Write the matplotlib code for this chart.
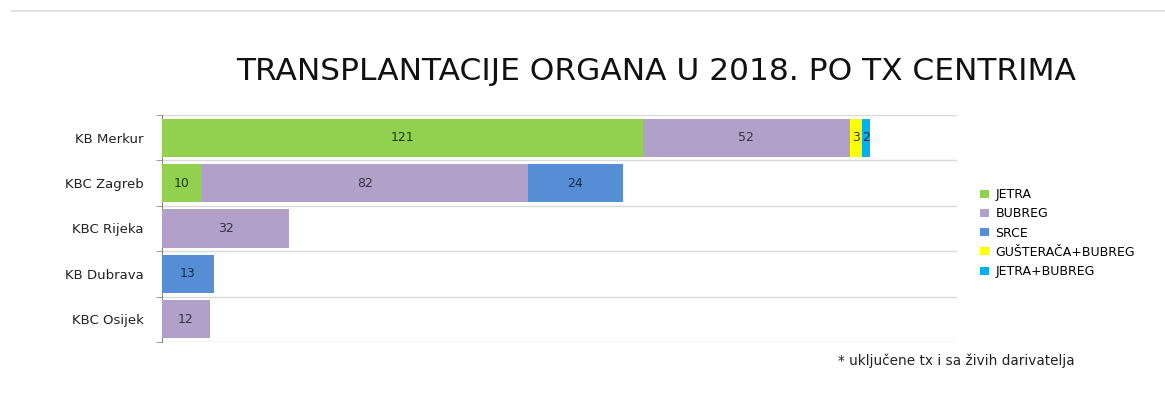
import matplotlib
matplotlib.use("Agg")
import matplotlib.pyplot as plt
from matplotlib.lines import Line2D
import numpy as np

plt.rcParams['font.family'] = ['DejaVu Sans']

centers = ["KB Merkur", "KBC Zagreb", "KBC Rijeka", "KB Dubrava", "KBC Osijek"]
series_names = ["JETRA", "BUBREG", "SRCE", "GUŠTERAČA+BUBREG", "JETRA+BUBREG"]
jetra = [121, 10, 0, 0, 0]
bubreg = [52, 82, 32, 0, 12]
srce = [0, 24, 0, 13, 0]
gusteraca_bubreg = [3, 0, 0, 0, 0]
jetra_bubreg = [2, 0, 0, 0, 0]
colors = ["#92D050", "#B1A0C7", "#558ED5", "#FFFF00", "#00B0F0"]
label_colors = ["#1F3A0E", "#3A3048", "#152B4A", "#3A3A00", "#0A2A3A"]

title = "TRANSPLANTACIJE ORGANA U 2018. PO TX CENTRIMA"
footnote = "* uključene tx i sa živih darivatelja"

fig = plt.figure(figsize=(11.65, 4.19), dpi=100)
ax = fig.add_axes([162/1165, 1-342/419, (957-162)/1165, (342-115)/419])

y = np.arange(len(centers))
left = np.zeros(len(centers))
for name, vals, col, lc in zip(series_names, [jetra, bubreg, srce, gusteraca_bubreg, jetra_bubreg], colors, label_colors):
    vals = np.array(vals, dtype=float)
    bars = ax.barh(y, vals, left=left, height=0.84, color=col, label=name, zorder=3)
    for b, v in zip(bars, vals):
        if v > 0:
            ax.text(b.get_x() + b.get_width()/2, b.get_y() + b.get_height()/2, f"{int(v)}",
                    ha='center', va='center', fontsize=9, color=lc, zorder=4)
    left += vals

ax.set_xlim(0, 200)
ax.set_ylim(len(centers)-0.5, -0.5)
ax.set_yticks(y)
ax.set_yticklabels(centers, fontsize=9.5, color='#222222')
ax.set_yticks(np.arange(len(centers)+1) - 0.5, minor=True)
ax.tick_params(axis='y', which='major', length=0, pad=13)
ax.tick_params(axis='y', which='minor', length=4, color='#888888', direction='out')
ax.set_xticks([])
for s in ['top', 'right', 'bottom']:
    ax.spines[s].set_visible(False)
ax.spines['left'].set_color('#888888')
ax.grid(False)
for yy in np.arange(len(centers)+1) - 0.5:
    ax.axhline(yy, color='#d9d9d9', lw=1, zorder=1)

leg = ax.legend(loc='upper left', bbox_to_anchor=(1.023, 0.70), frameon=False,
                fontsize=9, handlelength=0.7, handleheight=0.6, handletextpad=0.5,
                labelspacing=0.5, borderaxespad=0)

fig.text(656/1165, 1-72/419, title, ha='center', va='center', fontsize=22.5, color='#111111')
fig.text(838/1165, 1-361/419, footnote, ha='left', va='center', fontsize=9.8, color='#222222')
fig.add_artist(Line2D([12/1165, 1], [1-11/419, 1-11/419], color='#dcdcdc', lw=1.2))

fig.savefig("out.png", dpi=100)
